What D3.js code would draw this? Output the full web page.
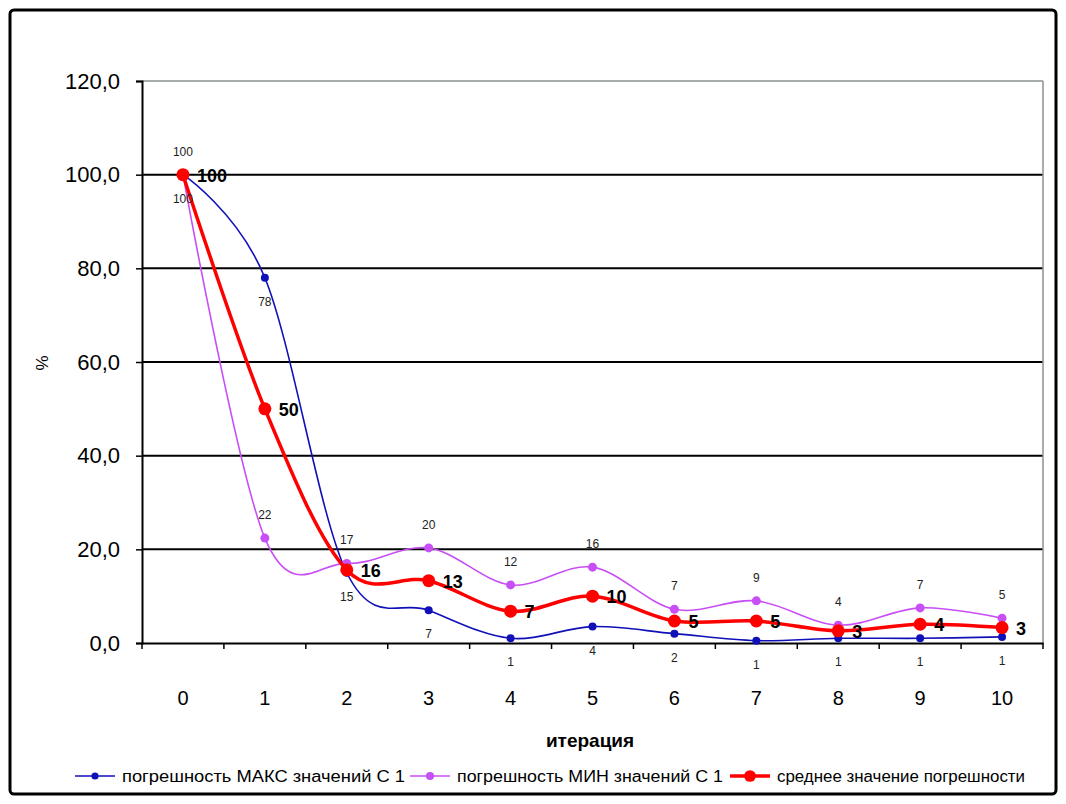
<!DOCTYPE html>
<html>
<head>
<meta charset="utf-8">
<title>iter</title>
<script src="https://d3js.org/d3.v7.min.js"></script>
<style>
body{margin:0;background:#fff;}
text{font-family:"Liberation Sans",Arial,sans-serif;}
</style>
</head>
<body>
<svg width="1066" height="804" id="mainsvg"></svg>
<script>
// данные
const iterations=['0','1','2','3','4','5','6','7','8','9','10'];
const maxErr=[100,78,15,7,1,3.5,2,0.5,1,1,1.3];
const maxLbl=['100','78','15','7','1','4','2','1','1','1','1'];
const minErr=[100,22.4,17,20.3,12.4,16.2,7.2,9,3.8,7.5,5.3];
const minLbl=['100','22','17','20','12','16','7','9','4','7','5'];
const avgErr=[100,50,15.6,13.3,6.8,10,4.7,4.7,2.6,4,3.3];
const avgLbl=['100','50','16','13','7','10','5','5','3','4','3'];
const yTicks=[0,20,40,60,80,100,120];
const legendNames=['погрешность МАКС значений С 1','погрешность МИН значений С 1','среднее значение погрешности'];

let svg=d3.select('svg');
const margin={top:81,left:142,right:1043,bottom:643};

// рамка
svg.append('rect').attr('x',10).attr('y',10).attr('width',1046).attr('height',784)
.attr('rx',4).attr('fill','#fff').attr('stroke','#000').attr('stroke-width',3);

const x=d3.scaleBand().domain(iterations).range([margin.left,margin.right]).paddingInner(0);
const y=d3.scaleLinear().domain([0,120]).range([margin.bottom,margin.top]);
const cx=d=>x(d)+x.bandwidth()/2;

const g=svg.append('g');

// сетка
g.selectAll('.grid').data(yTicks.filter(d=>d>0)).enter().append('line')
.attr('x1',margin.left).attr('x2',margin.right)
.attr('y1',d=>y(d)).attr('y2',d=>y(d))
.attr('stroke',d=>d==120?'#8a9090':'#000').attr('stroke-width',d=>d==120?1.5:2);
g.append('line').attr('x1',margin.right).attr('x2',margin.right)
.attr('y1',margin.top).attr('y2',margin.bottom).attr('stroke','#8a9090').attr('stroke-width',1.5);

// ось Y
const yaxis=d3.axisLeft(y).tickValues(yTicks).tickSize(6).tickPadding(16)
.tickFormat(d=>d3.format('.1f')(d).replace('.',','));
const ya=g.append('g').attr('transform',`translate(${margin.left},0)`).call(yaxis);
ya.select('.domain').attr('stroke','#000').attr('stroke-width',2);
ya.selectAll('.tick line').attr('stroke','#000').attr('stroke-width',1.5);
ya.selectAll('text').attr('font-size',22).attr('fill','#000').attr('font-family','"Liberation Sans",Arial,sans-serif');

// ось X
const xaxis=d3.axisBottom(x).tickSize(0).tickPadding(48);
const xa=g.append('g').attr('transform',`translate(0,${margin.bottom})`).call(xaxis);
xa.select('.domain').attr('stroke','#000').attr('stroke-width',2);
xa.selectAll('text').attr('font-size',20).attr('fill','#000').attr('font-family','"Liberation Sans",Arial,sans-serif');
const bounds=iterations.map(d=>x(d)).concat([margin.right]);
g.selectAll('.xt').data(bounds).enter().append('line')
.attr('x1',d=>d).attr('x2',d=>d).attr('y1',margin.bottom).attr('y2',margin.bottom+6)
.attr('stroke','#000').attr('stroke-width',1.5);

// подписи осей
svg.append('text').attr('x',590).attr('y',747).attr('text-anchor','middle')
.attr('font-size',19).attr('font-weight','bold').text('итерация');
svg.append('text').attr('transform','translate(48,363) rotate(-90)').attr('text-anchor','middle')
.attr('font-size',17).text('%');

const line=d3.line().x((d,i)=>cx(iterations[i])).y(d=>y(d)).curve(d3.curveCatmullRom.alpha(0));

const series=[
  {vals:maxErr,lbl:maxLbl,color:'#1010b8',w:1.6,r:4,dy:28,dx:0,size:12,bold:false},
  {vals:minErr,lbl:minLbl,color:'#c84ef5',w:1.6,r:4.5,dy:-19,dx:0,size:12,bold:false},
  {vals:avgErr,lbl:avgLbl,color:'#ff0000',w:3.5,r:6.5,dy:7,dx:14,size:18,bold:true}
];

series.forEach(s=>{
  g.append('path').datum(s.vals).attr('d',line).attr('fill','none')
  .attr('stroke',s.color).attr('stroke-width',s.w);
  g.selectAll(null).data(s.vals).enter().append('circle')
  .attr('cx',(d,i)=>cx(iterations[i])).attr('cy',d=>y(d)).attr('r',s.r).attr('fill',s.color);
});
series.forEach(s=>{
  g.selectAll(null).data(s.vals).enter().append('text')
  .attr('x',(d,i)=>cx(iterations[i])+s.dx)
  .attr('y',d=>y(d)+s.dy)
  .attr('text-anchor',s.bold?'start':'middle')
  .attr('font-size',s.size).attr('font-weight',s.bold?'bold':'normal')
  .attr('fill',s.bold?'#000':'#222')
  .text((d,i)=>s.lbl[i]);
});

// легенда
const legX=[75,410,730];
const legW=[283,266,248];
const legend=svg.selectAll('.legend').data(series).enter().append('g')
.attr('transform',(d,i)=>`translate(${legX[i]},776)`);
legend.append('line').attr('x1',0).attr('x2',40).attr('y1',0).attr('y2',0)
.attr('stroke',d=>d.color).attr('stroke-width',d=>d.w);
legend.append('circle').attr('cx',20).attr('cy',0).attr('r',d=>d.r*0.9).attr('fill',d=>d.color);
legend.append('text').attr('x',47).attr('y',6).attr('font-size',16)
.attr('textLength',(d,i)=>legW[i]).attr('lengthAdjust','spacingAndGlyphs')
.attr('fill','#000').text((d,i)=>legendNames[i]);
</script>
</body>
</html>
